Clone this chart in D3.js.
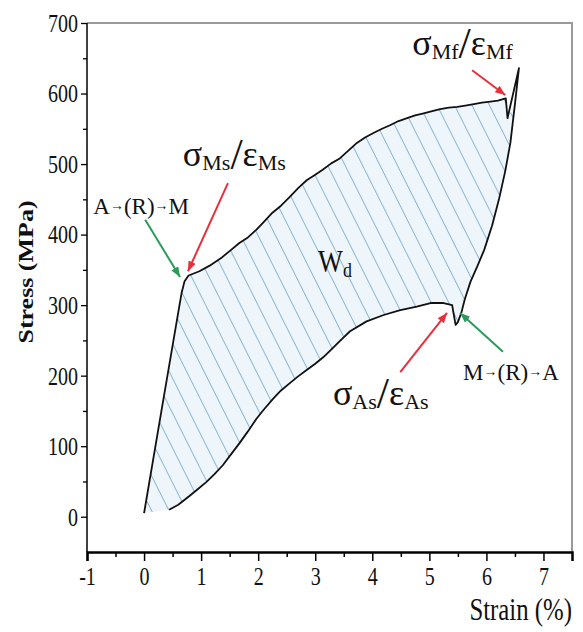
<!DOCTYPE html>
<html>
<head>
<meta charset="utf-8">
<script src="https://cdn.jsdelivr.net/npm/d3@7"></script>
<style>
  body { margin: 0; background: #fff; }
  text { font-family: 'Liberation Serif', 'Times New Roman', serif; fill: #111; }
</style>
</head>
<body>
<div id="graf"></div>
<script>
const anchoTotal = 583
const altoTotal = 632
const comp = 0.77   // the picture is squeezed sideways, so is the text

// datos: [strain (%), stress (MPa)]
const carga = [
  [0, 5], [0.3, 148], [0.6, 290], [0.66, 318], [0.71, 334], [0.78, 342], [0.97, 348],
  [1.15, 356], [1.37, 368], [1.52, 378], [1.67, 388], [1.82, 396], [1.97, 407],
  [2.1, 418], [2.25, 431], [2.4, 441], [2.55, 453], [2.7, 466], [2.85, 477],
  [3.0, 485], [3.13, 492], [3.28, 501], [3.43, 508], [3.58, 519], [3.73, 530],
  [3.88, 538], [4.02, 544], [4.17, 550], [4.31, 555], [4.46, 561], [4.61, 565],
  [4.75, 569], [4.9, 572], [5.05, 575], [5.19, 578], [5.34, 580], [5.49, 581],
  [5.63, 583], [5.78, 585], [5.92, 587], [6.07, 588.5], [6.2, 590], [6.34, 593]
]
const pico = [[6.37, 565], [6.57, 636]]
const descarga = [
  [6.5, 585], [6.42, 530], [6.33, 490], [6.22, 450], [6.1, 413], [5.96, 378],
  [5.84, 355], [5.72, 333], [5.62, 308], [5.56, 289], [5.5, 276], [5.46, 272],
  [5.42, 290], [5.4, 300]
]
const inferior = [
  [5.25, 303], [5.02, 303], [4.78, 298], [4.49, 293], [4.2, 286], [3.9, 277],
  [3.61, 263], [3.43, 249], [3.28, 237], [3.14, 226], [3.0, 217], [2.85, 208],
  [2.7, 199], [2.55, 189], [2.4, 179], [2.26, 167], [2.1, 152], [1.97, 139],
  [1.82, 121], [1.67, 104], [1.52, 88], [1.38, 73], [1.23, 60], [1.09, 49],
  [0.94, 39], [0.79, 29], [0.6, 17], [0.44, 10]
]

const xTicks = [-1, 0, 1, 2, 3, 4, 5, 6, 7]
const xMinor = [-0.5, 0.5, 1.5, 2.5, 3.5, 4.5, 5.5, 6.5]
const yTicks = [0, 100, 200, 300, 400, 500, 600, 700]
const yMinor = [50, 150, 250, 350, 450, 550, 650]

// flechas: [cola, punta, color]
const flechas = [
  [[1.47, 473], [0.77, 348], 'rojo'],
  [[0.02, 421], [0.63, 340], 'verde'],
  [[5.75, 633], [6.33, 598], 'rojo'],
  [[4.49, 205], [5.31, 289], 'rojo'],
  [[6.29, 234], [5.54, 289], 'verde']
]

const svg = d3.select('#graf')
  .append('svg')
  .attr('width', anchoTotal)
  .attr('height', altoTotal)

const margin = { top: 23, bottom: 80, left: 87, right: 11 }

const x = d3.scaleLinear().domain([-1, 7.5]).range([margin.left, anchoTotal - margin.right])
const y = d3.scaleLinear().domain([-50, 700]).range([altoTotal - margin.bottom, margin.top])

const defs = svg.append('defs')
const pat = defs.append('pattern')
  .attr('id', 'rayas')
  .attr('patternUnits', 'userSpaceOnUse')
  .attr('width', 15.6)
  .attr('height', 20)
  .attr('patternTransform', 'rotate(-26.6)')
pat.append('rect').attr('width', 15.6).attr('height', 20).attr('fill', '#eef6fb')
pat.append('line')
  .attr('x1', 0.5).attr('x2', 0.5).attr('y1', 0).attr('y2', 20)
  .attr('stroke', '#8ab5d8').attr('stroke-width', 1)

const colores = { rojo: '#e8303c', verde: '#2b9a5c' }
Object.keys(colores).forEach(k => {
  defs.append('marker')
    .attr('id', 'punta-' + k)
    .attr('markerUnits', 'userSpaceOnUse')
    .attr('markerWidth', 12).attr('markerHeight', 10)
    .attr('refX', 10).attr('refY', 4)
    .attr('orient', 'auto')
    .append('path')
    .attr('d', 'M0,0 L10,4 L0,8 Z')
    .attr('fill', colores[k])
})

// marco gris arriba y derecha
svg.append('path')
  .attr('d', `M${x(-1)},${y(700)} H${x(7.5)} V${y(-50)}`)
  .attr('fill', 'none')
  .attr('stroke', '#9a9a9a')
  .attr('stroke-width', 2)

// area rayada
const linea = d3.line().x(d => x(d[0])).y(d => y(d[1]))
const area = carga.concat([pico[0]], descarga, inferior)
svg.append('path')
  .attr('d', linea(area) + 'Z')
  .attr('fill', 'url(#rayas)')
  .attr('stroke', 'none')

// curva
svg.append('path')
  .attr('d', linea(carga.concat(pico, descarga, inferior)))
  .attr('fill', 'none')
  .attr('stroke', '#111')
  .attr('stroke-width', 1.8)
  .attr('stroke-linejoin', 'round')

// ejes
const xAxisGroup = svg.append('g')
  .attr('transform', `translate(0, ${y(-50)})`)
  .call(d3.axisBottom(x).tickValues(xTicks).tickSize(9).tickPadding(6).tickFormat(d => d))
xAxisGroup.append('g')
  .call(d3.axisBottom(x).tickValues(xMinor).tickSize(5).tickFormat(''))
  .select('.domain').remove()
xAxisGroup.selectAll('.domain').attr('stroke-width', 2.5)
xAxisGroup.selectAll('line').attr('stroke-width', 1.5)
xAxisGroup.selectAll('text')
  .attr('font-size', 26)
  .attr('font-family', "'Liberation Serif', serif")
  .attr('transform', `scale(${comp},1)`)

const yAxisGroup = svg.append('g')
  .attr('transform', `translate(${x(-1)}, 0)`)
  .call(d3.axisLeft(y).tickValues(yTicks).tickSize(6).tickFormat(d => d))
yAxisGroup.append('g')
  .call(d3.axisLeft(y).tickValues(yMinor).tickSize(4).tickFormat(''))
  .select('.domain').remove()
yAxisGroup.select('.domain').attr('d', `M0,${y(-50)}V${y(700)}`).attr('stroke-width', 1.5)
yAxisGroup.selectAll('line').attr('stroke-width', 1.3)
yAxisGroup.selectAll('text')
  .attr('font-size', 26)
  .attr('font-family', "'Liberation Serif', serif")
  .attr('x', -9 / comp)
  .attr('transform', `scale(${comp},1)`)

svg.append('text')
  .attr('transform', `translate(33, 272) rotate(-90) scale(1, ${comp})`)
  .attr('text-anchor', 'middle')
  .attr('font-size', 26)
  .attr('font-weight', 'bold')
  .text('Stress (MPa)')

svg.append('text')
  .attr('transform', `translate(572, 620) scale(0.8,1)`)
  .attr('text-anchor', 'end')
  .attr('font-size', 31)
  .text('Strain (%)')

// flechas
svg.selectAll('.flecha')
  .data(flechas)
  .enter()
  .append('line')
  .attr('class', 'flecha')
  .attr('x1', d => x(d[0][0])).attr('y1', d => y(d[0][1]))
  .attr('x2', d => x(d[1][0])).attr('y2', d => y(d[1][1]))
  .attr('stroke', d => colores[d[2]])
  .attr('stroke-width', 2)
  .attr('marker-end', d => `url(#punta-${d[2]})`)

// etiquetas con subindices
function sigmaEps(pos, sub) {
  const t = svg.append('text')
    .attr('transform', `translate(${x(pos[0])}, ${y(pos[1])})`)
    .attr('font-size', 36)
  t.append('tspan').text('σ')
  t.append('tspan').attr('font-size', 22).attr('dy', 4).text(sub)
  t.append('tspan').attr('font-size', 44).attr('dy', -1).text('/')
  t.append('tspan').attr('dy', -3).text('ε')
  t.append('tspan').attr('font-size', 22).attr('dy', 4).text(sub)
}
sigmaEps([0.68, 497], 'Ms')
sigmaEps([4.7, 655], 'Mf')
sigmaEps([3.31, 158], 'As')

function transicion(pos, a, b) {
  const t = svg.append('text')
    .attr('transform', `translate(${x(pos[0])}, ${y(pos[1])})`)
    .attr('font-size', 23)
  t.append('tspan').text(a)
  t.append('tspan').attr('font-size', 14).attr('dy', -4).text('→')
  t.append('tspan').attr('dy', 4).text('(R)')
  t.append('tspan').attr('font-size', 14).attr('dy', -4).text('→')
  t.append('tspan').attr('dy', 4).text(b)
}
transicion([-0.89, 429], 'A', 'M')
transicion([5.59, 194], 'M', 'A')

const wd = svg.append('text')
  .attr('transform', `translate(${x(3.05)}, ${y(347)}) scale(0.85,1)`)
  .attr('font-size', 31)
wd.append('tspan').text('W')
wd.append('tspan').attr('font-size', 21).attr('dy', 5).text('d')
</script>
</body>
</html>
